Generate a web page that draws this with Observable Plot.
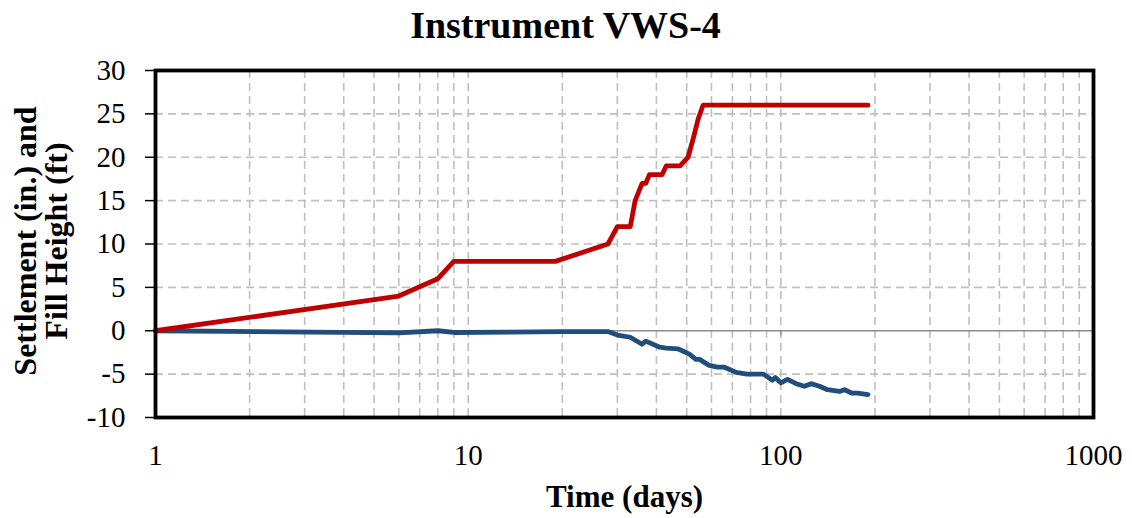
<!DOCTYPE html>
<html>
<head>
<meta charset="utf-8">
<script src="https://cdn.jsdelivr.net/npm/d3@7"></script>
<script src="https://cdn.jsdelivr.net/npm/@observablehq/plot@0.6"></script>
<style>
  html, body { margin: 0; padding: 0; background: #fff; }
  svg { display: block; }
</style>
</head>
<body>
<div id="chart"></div>
<script>
const titleText = "Instrument VWS-4";
const xLabelText = "Time (days)";
const yLabelText = "Settlement (in.) and\nFill Height (ft)";

const fillDays   = [1, 6, 8, 9, 19, 28, 30, 33, 34.2, 36, 37, 38, 41.7, 43, 47.6, 50.5, 52.5, 54.5, 56.4, 190];
const fillHeight = [0, 4, 6, 8, 8, 10, 12, 12, 15, 17, 17, 18, 18, 19, 19, 20, 22.2, 24.5, 26, 26];

const settleDays = [1, 6, 8, 9, 20, 28, 30, 33, 36, 37, 41, 43, 47, 51, 53.5, 55, 59, 62.6, 66, 72, 78, 84, 88, 94, 96, 100, 105, 112, 119, 125, 133, 141, 154, 160, 169, 176, 190];
const settlement = [0, -0.25, 0, -0.2, -0.1, -0.1, -0.5, -0.75, -1.55, -1.2, -1.9, -2.0, -2.1, -2.7, -3.3, -3.3, -4.0, -4.2, -4.2, -4.8, -5.0, -5.0, -5.0, -5.7, -5.4, -6.0, -5.6, -6.1, -6.4, -6.1, -6.4, -6.8, -7.0, -6.8, -7.2, -7.2, -7.35];

const xTicks = [1, 10, 100, 1000];
const xGrid = [2,3,4,5,6,7,8,9,10,20,30,40,50,60,70,80,90,100,200,300,400,500,600,700,800,900];
const yTicks = [-10, -5, 0, 5, 10, 15, 20, 25, 30];
const yGrid = [-5, 5, 10, 15, 20, 25];

const fillData = fillDays.map((d, i) => ({day: d, v: fillHeight[i]}));
const settleData = settleDays.map((d, i) => ({day: d, v: settlement[i]}));

const serif = "'Liberation Serif', 'Times New Roman', serif";

const chart = Plot.plot({
  width: 1132,
  height: 518,
  marginLeft: 155,
  marginRight: 39,
  marginTop: 70,
  marginBottom: 101,
  style: {fontFamily: serif, background: "white", overflow: "visible"},
  x: {type: "log", domain: [1, 1000]},
  y: {domain: [-10, 30]},
  marks: [
    Plot.ruleX(xGrid, {stroke: "#bfbfbf", strokeWidth: 1.6, strokeDasharray: "8,5"}),
    Plot.ruleY(yGrid, {stroke: "#bfbfbf", strokeWidth: 1.6, strokeDasharray: "8,5"}),
    Plot.ruleY([0], {stroke: "#8c8c8c", strokeWidth: 1.6}),
    Plot.ruleX(xTicks, {y1: 0, y2: -0.6, stroke: "#8c8c8c", strokeWidth: 1.4}),
    Plot.line(settleData, {x: "day", y: "v", stroke: "#1f4e7d", strokeWidth: 4.8}),
    Plot.line(fillData, {x: "day", y: "v", stroke: "#c00000", strokeWidth: 4.8}),
    Plot.frame({stroke: "black", strokeWidth: 3.8}),
    Plot.axisY(yTicks, {tickSize: 10, tickPadding: 20, fontSize: 29, tickFormat: d => String(d), label: null, stroke: "black", strokeWidth: 1.5}),
    Plot.axisX(xTicks, {tickSize: 0, tickPadding: 27, fontSize: 29, tickFormat: d => String(d), label: null}),
    Plot.text([titleText], {frameAnchor: "top", lineAnchor: "middle", dx: -59, dy: -45, fontSize: 38, fontWeight: "bold", fill: "black"}),
    Plot.text([xLabelText], {frameAnchor: "bottom", lineAnchor: "middle", dy: 80, fontSize: 31, fontWeight: "bold", fill: "black"}),
    Plot.text([yLabelText], {frameAnchor: "left", textAnchor: "middle", lineAnchor: "middle", dx: -114, dy: -3, rotate: -90, fontSize: 32, fontWeight: "bold", lineHeight: 0.97, fill: "black"})
  ]
});
document.getElementById("chart").appendChild(chart);
</script>
</body>
</html>
